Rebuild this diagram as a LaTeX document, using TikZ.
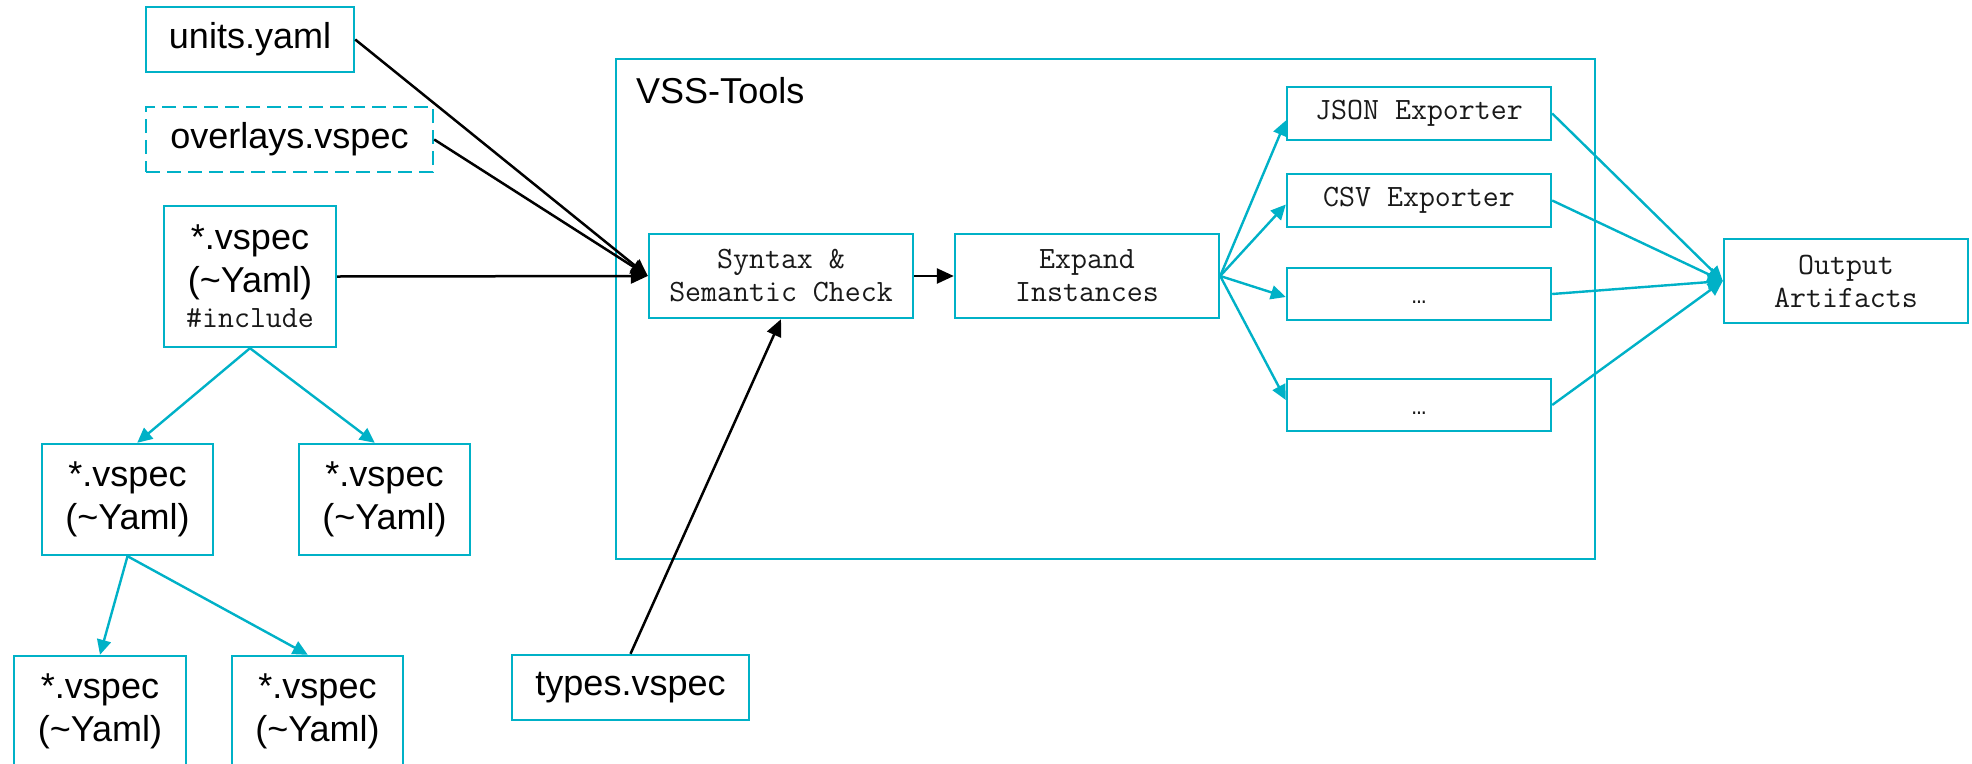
\documentclass[tikz,border=0pt]{standalone}
\usepackage{fontspec}
\setmainfont{Liberation Sans}
\newfontfamily\lmono{Liberation Mono}
\usetikzlibrary{arrows.meta,calc}
\definecolor{cy}{RGB}{0,177,199}
\definecolor{mtxt}{RGB}{25,25,25}
\tikzset{
  box/.style={draw=cy, line width=2.4pt, inner sep=0pt, align=center,
    font=\fontsize{36}{43}\selectfont},
  mbox/.style={box, font=\fontsize{31}{33}\selectfont\ttfamily, text=mtxt},
  blk/.style={draw=black, line width=2.5pt, -{Triangle[length=17pt,width=15pt]}},
  cya/.style={draw=cy, line width=2.4pt, -{Triangle[length=15pt,width=14pt]}},
}
\begin{document}
\begin{tikzpicture}[x=1pt,y=-1pt]
\useasboundingbox (0,0) rectangle (1972,763);
\clip (0,0) rectangle (1972,763);

% container
\node[draw=cy, line width=2.4pt, minimum width=979pt, minimum height=500pt, inner sep=0pt] (vss) at (1105.5,309) {};
\node[anchor=base west, inner sep=0pt, font=\fontsize{36}{43}\selectfont] (vsslbl) at (636,103) {VSS-Tools};

% left inputs
\node[box, minimum width=208pt, minimum height=65pt] (units) at (250,39.5) {units.yaml};
\node[box, dash pattern=on 14pt off 7pt, minimum width=287pt, minimum height=65pt] (overlays) at (289.5,139.5) {overlays.vspec};
\node[box, minimum width=172pt, minimum height=141pt] (vmain) at (250,276.5)
  {*.vspec\\(\textasciitilde Yaml)\\[-8pt]{\fontsize{31}{33}\selectfont\ttfamily\color{mtxt}\#include}};
\node[box, minimum width=171pt, minimum height=111pt] (vL) at (127.5,499.5) {*.vspec\\(\textasciitilde Yaml)};
\node[box, minimum width=171pt, minimum height=111pt] (vR) at (384.5,499.5) {*.vspec\\(\textasciitilde Yaml)};
\node[box, minimum width=172pt, minimum height=111pt] (vLL) at (100,711.5) {*.vspec\\(\textasciitilde Yaml)};
\node[box, minimum width=171pt, minimum height=111pt] (vLR) at (317.5,711.5) {*.vspec\\(\textasciitilde Yaml)};
\node[box, minimum width=237pt, minimum height=65pt] (types) at (630.5,687.5) {types.vspec};

% processing
\node[mbox, minimum width=264pt, minimum height=84pt] (syntax) at (781,276) {Syntax \&\\Semantic Check};
\node[mbox, minimum width=264pt, minimum height=84pt] (expand) at (1087,276) {Expand\\Instances};
\node[mbox, minimum width=264pt, minimum height=53pt] (json) at (1419,113.5) {JSON Exporter};
\node[mbox, minimum width=264pt, minimum height=53pt] (csv) at (1419,200.5) {CSV Exporter};
\node[mbox, minimum width=264pt, minimum height=52pt] (dotsa) at (1419,294) {{\lmono\fontsize{24}{28}\selectfont …}\vphantom{Ex}};
\node[mbox, minimum width=264pt, minimum height=52pt] (dotsb) at (1419,405) {{\lmono\fontsize{24}{28}\selectfont …}\vphantom{Ex}};
\node[mbox, minimum width=244pt, minimum height=84pt] (output) at (1846,281) {Output\\Artifacts};

% black connectors
\draw[blk] (units.east) -- (syntax.west);
\draw[blk] (overlays.east) -- (syntax.west);
\draw[blk] (vmain.east) -- (syntax.west);
\draw[blk] (types.north) -- (syntax.south);
\draw[blk] (syntax.east) -- (expand.west);

% include tree
\draw[cya] (vmain.south) -- ($(vL.north west)!0.556!(vL.north east)$);
\draw[cya] (vmain.south) -- ($(vR.north west)!0.444!(vR.north east)$);
\draw[cya] (vL.south) -- ($(vLL.north west)!0.5!(vLL.north east)$);
\draw[cya] (vL.south) -- ($(vLR.north west)!0.444!(vLR.north east)$);

% exporters
\draw[cya] (expand.east) -- ([yshift=-7pt]json.west);
\draw[cya] (expand.east) -- ([yshift=-4pt]csv.west);
\draw[cya] (expand.east) -- ([yshift=-3pt]dotsa.west);
\draw[cya] (expand.east) -- ([yshift=5pt]dotsb.west);
\draw[cya] (json.east) -- (output.west);
\draw[cya] (csv.east) -- (output.west);
\draw[cya] (dotsa.east) -- (output.west);
\draw[cya] (dotsb.east) -- (output.west);
\end{tikzpicture}
\end{document}
